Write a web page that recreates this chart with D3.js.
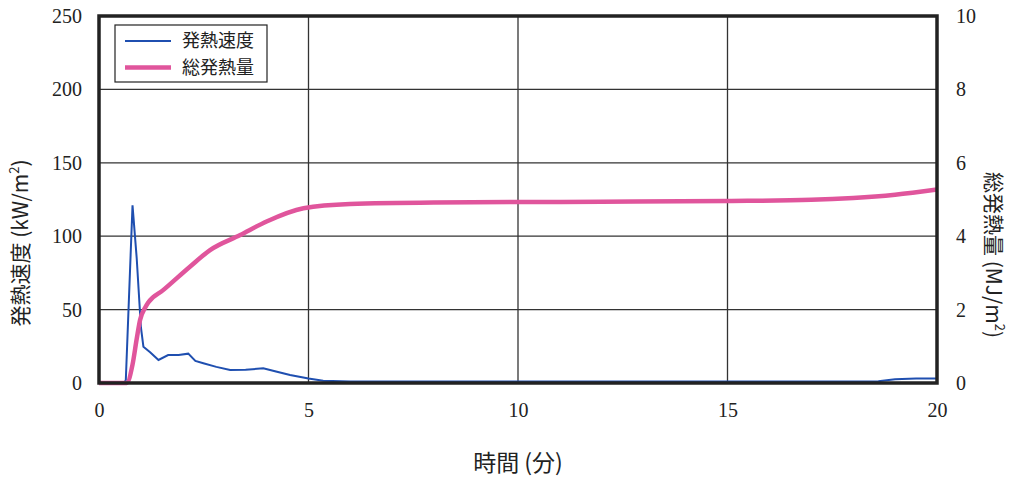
<!DOCTYPE html>
<html>
<head>
<meta charset="utf-8">
<script src="https://cdn.jsdelivr.net/npm/d3@7"></script>
<style>
  body { margin: 0; background: #fff; }
  text { fill: #222; }
</style>
</head>
<body>
<svg id="chart" width="1010" height="481"></svg>
<script>
// heat release rate (kW/m2) vs time (min)
const rateTime = [0, 0.6, 0.64, 0.8, 0.9, 1.0, 1.06, 1.22, 1.42, 1.65, 1.9, 2.13, 2.3, 2.49, 2.8, 3.13, 3.5, 3.92, 4.2, 4.56, 5.0, 5.35, 6, 8, 10, 12, 14, 16, 18, 18.6, 19, 19.5, 20];
const rateValue = [0, 0, 2, 121, 85, 38, 24.7, 21, 15.7, 19, 19, 20, 15, 13.4, 11, 8.9, 9, 10, 8, 5.4, 3, 1.5, 1, 1, 1, 1, 1, 1, 1, 1.2, 2.5, 3, 3];
// total heat release (MJ/m2)
const totalTime = [0, 0.66, 0.8, 0.9, 0.98, 1.1, 1.18, 1.53, 2.17, 2.65, 3.37, 4.0, 4.88, 5.99, 8, 10, 12, 15, 17, 18, 19, 20];
const totalValue = [0, 0, 0.5, 1.2, 1.72, 2.05, 2.2, 2.53, 3.17, 3.62, 4.03, 4.40, 4.76, 4.88, 4.92, 4.93, 4.94, 4.96, 4.99, 5.04, 5.13, 5.27];
const xTicks = [0, 5, 10, 15, 20];
const leftTicks = [0, 50, 100, 150, 200, 250];
const rightTicks = [0, 2, 4, 6, 8, 10];
const legendNames = ["発熱速度", "総発熱量"];
const colors = ["#1f4fb0", "#e0559c"];

const svg = d3.select("#chart");
const margin = {left: 99, right: 73, top: 16, bottom: 98};
const width = 1010 - margin.left - margin.right;
const height = 481 - margin.top - margin.bottom;
const g = svg.append("g").attr("transform", "translate(" + margin.left + "," + margin.top + ")");

const x = d3.scaleLinear().domain([0, 20]).range([0, width]);
const yL = d3.scaleLinear().domain([0, 250]).range([height, 0]);
const yR = d3.scaleLinear().domain([0, 10]).range([height, 0]);

const numFont = "'Liberation Serif', 'DejaVu Serif', serif";
const jpFont = "'Noto Sans CJK JP', sans-serif";

// grid
g.selectAll(".vgrid").data(xTicks.slice(1, -1)).enter().append("line")
  .attr("x1", d => x(d)).attr("x2", d => x(d)).attr("y1", 0).attr("y2", height)
  .attr("stroke", "#333").attr("stroke-width", 1.3);
g.selectAll(".hgrid").data(leftTicks.slice(1, -1)).enter().append("line")
  .attr("y1", d => yL(d)).attr("y2", d => yL(d)).attr("x1", 0).attr("x2", width)
  .attr("stroke", "#333").attr("stroke-width", 1.3);

// lines
g.append("path").datum(rateTime.map((t, i) => [t, rateValue[i]]))
  .attr("fill", "none").attr("stroke", colors[0]).attr("stroke-width", 2)
  .attr("d", d3.line().x(d => x(d[0])).y(d => yL(d[1])));
g.append("path").datum(totalTime.map((t, i) => [t, totalValue[i]]))
  .attr("fill", "none").attr("stroke", colors[1]).attr("stroke-width", 4.5)
  .attr("d", d3.line().curve(d3.curveMonotoneX).x(d => x(d[0])).y(d => yR(d[1])));

// frame
g.append("rect").attr("width", width).attr("height", height)
  .attr("fill", "none").attr("stroke", "#222").attr("stroke-width", 3.5);

// axes
const axB = g.append("g").attr("transform", "translate(0," + height + ")")
  .call(d3.axisBottom(x).tickValues(xTicks).tickSize(0).tickPadding(20));
const axL = g.append("g").call(d3.axisLeft(yL).tickValues(leftTicks).tickSize(0).tickPadding(17));
const axR = g.append("g").attr("transform", "translate(" + width + ",0)")
  .call(d3.axisRight(yR).tickValues(rightTicks).tickSize(0).tickPadding(19));
[axB, axL, axR].forEach(a => {
  a.select(".domain").remove();
  a.selectAll("text").style("font-family", numFont).style("font-size", "20px").attr("fill", "#222");
});

// axis titles
svg.append("text").attr("x", 518).attr("y", 471).attr("text-anchor", "middle")
  .style("font-family", jpFont).style("font-size", "23px").text("時間 (分)");
svg.append("text").attr("transform", "translate(28,243) rotate(-90)").attr("text-anchor", "middle")
  .style("font-family", jpFont).style("font-size", "21px")
  .html("発熱速度 (kW/m<tspan baseline-shift='super' font-size='13px'>2</tspan>)");
svg.append("text").attr("transform", "translate(986,255) rotate(90)").attr("text-anchor", "middle")
  .style("font-family", jpFont).style("font-size", "21px")
  .html("総発熱量 (MJ/m<tspan baseline-shift='super' font-size='13px'>2</tspan>)");

// legend
const lg = svg.append("g").attr("transform", "translate(115,25)");
lg.append("rect").attr("width", 152).attr("height", 57).attr("fill", "#fff")
  .attr("stroke", "#222").attr("stroke-width", 1.2);
legendNames.forEach((n, i) => {
  const yy = 16 + i * 26.5;
  lg.append("line").attr("x1", 10).attr("x2", 56).attr("y1", yy).attr("y2", yy)
    .attr("stroke", colors[i]).attr("stroke-width", i === 0 ? 2 : 4.5);
  lg.append("text").attr("x", 67).attr("y", yy).attr("dy", "0.36em")
    .style("font-family", jpFont).style("font-size", "18px").text(n);
});
</script>
</body>
</html>
